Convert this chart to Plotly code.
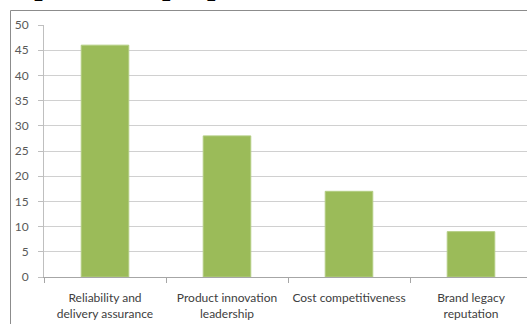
import plotly.graph_objects as go

categories = ["Reliability and<br>delivery assurance", "Product innovation<br>leadership",
              "Cost competitiveness", "Brand legacy<br>reputation"]
values = [46, 28, 17, 9]
y_ticks = [0, 5, 10, 15, 20, 25, 30, 35, 40, 45, 50]
title_text = "Top reasons people choose us"

W, H = 527, 324
L, T, B = 44, 25, 47
PW = W - L
PH = H - T - B

def px_x(p):
    return (p - L) / PW

def px_y(p):
    return 1 + (T - p) / PH

fig = go.Figure()
fig.add_trace(go.Bar(
    x=categories, y=values, width=0.39,
    marker=dict(color="#9BBB59", line=dict(color="#b3cd82", width=1)),
))

frame = dict(color="#8c8c8c", width=1)
fig.update_layout(
    width=W, height=H,
    margin=dict(l=L, r=0, t=T, b=B, autoexpand=False),
    paper_bgcolor="white", plot_bgcolor="white",
    showlegend=False,
    font=dict(family="Lato, Carlito, sans-serif", size=12, color="#404040"),
    xaxis=dict(
        type="category",
        range=[-0.5, -0.5 + PW / 122.0],
        showline=True, linecolor="#a6a6a6", linewidth=1,
        ticks="outside", tickson="boundaries", ticklen=5, tickcolor="#a6a6a6",
        showgrid=False, tickangle=0, automargin=False,
        ticklabelstandoff=10,
        tickfont=dict(size=12, color="#404040"),
    ),
    yaxis=dict(
        range=[0, 50], tickvals=y_ticks,
        showline=True, linecolor="#bfbfbf", linewidth=1,
        ticks="outside", ticklen=5, tickcolor="#bfbfbf",
        showgrid=True, gridcolor="#d0d0d0", gridwidth=1,
        zeroline=False, automargin=False,
        ticklabelstandoff=7,
        tickfont=dict(size=12, color="#595959"),
    ),
    shapes=[
        dict(type="line", xref="paper", yref="paper",
             x0=px_x(10.5), x1=px_x(W), y0=px_y(10.5), y1=px_y(10.5), line=frame),
        dict(type="line", xref="paper", yref="paper",
             x0=px_x(10.5), x1=px_x(10.5), y0=px_y(10.5), y1=px_y(H), line=frame),
    ],
    annotations=[dict(
        text="<b>" + title_text + "</b>", xref="paper", yref="paper",
        x=px_x(0), y=px_y(3), xanchor="left", yanchor="bottom", showarrow=False,
        font=dict(family="Liberation Serif", size=30, color="black"),
    )],
)

fig.write_html("out.html")
